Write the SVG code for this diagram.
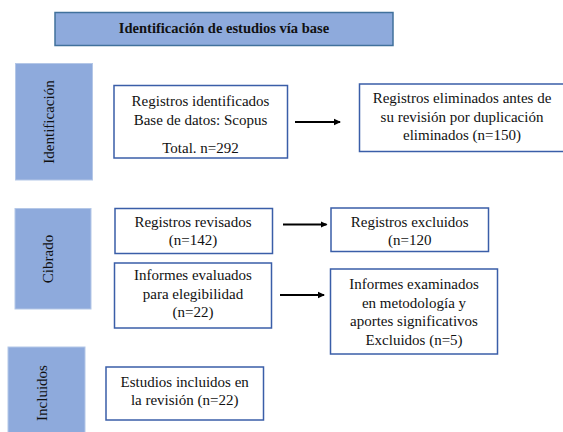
<svg xmlns="http://www.w3.org/2000/svg" width="563" height="432" viewBox="0 0 563 432">
<defs>
<style>
.side{fill:#8eaadc;stroke:#b4c7e7;stroke-width:1}
.hdr{fill:#8eaadc;stroke:#41719c;stroke-width:1.5}
.box{fill:#ffffff;stroke:#3a5ea8;stroke-width:1.5}
.t{font-family:"Liberation Serif","Times New Roman",serif;font-size:15px;fill:#111111;text-anchor:middle}
.b{font-weight:bold;font-size:14.5px}
.conn{stroke:#000000;stroke-width:2;fill:none;marker-end:url(#ah)}
</style>
<marker id="ah" markerWidth="8" markerHeight="8" refX="6" refY="4" orient="auto" markerUnits="userSpaceOnUse">
<path d="M0,0.8 L7,4 L0,7.2 Z" fill="#000000"/>
</marker>
</defs>
<rect width="563" height="432" fill="#ffffff"/>

<g id="header">
<rect class="hdr" x="55" y="12.5" width="338" height="33"/>
<text class="t b" x="224" y="32.5">Identificación de estudios vía base</text>
</g>

<g id="side-identificacion">
<rect class="side" x="15.5" y="63.5" width="77" height="116.5"/>
<text class="t" transform="translate(54,122) rotate(-90)">Identificación</text>
</g>

<g id="side-cibrado">
<rect class="side" x="15" y="208.5" width="76" height="100.5"/>
<text class="t" transform="translate(53,259) rotate(-90)">Cibrado</text>
</g>

<g id="side-incluidos">
<rect class="side" x="8" y="347" width="77" height="86"/>
<text class="t" transform="translate(46.5,393) rotate(-90)">Incluidos</text>
</g>

<g id="registros-identificados">
<rect class="box" x="114" y="85.5" width="173.5" height="72.5"/>
<text class="t" x="200.5" y="106">Registros identificados</text>
<text class="t" x="200.5" y="124.5">Base de datos: Scopus</text>
<text class="t" x="200.5" y="152.5">Total. n=292</text>
</g>

<g id="registros-eliminados">
<rect class="box" x="359.5" y="84" width="206" height="67.5"/>
<text class="t" x="462" y="103">Registros eliminados antes de</text>
<text class="t" x="462" y="121.5">su revisión por duplicación</text>
<text class="t" x="462" y="140">eliminados (n=150)</text>
</g>

<g id="registros-revisados">
<rect class="box" x="115" y="208.5" width="157.5" height="45"/>
<text class="t" x="193" y="227">Registros revisados</text>
<text class="t" x="193" y="245">(n=142)</text>
</g>

<g id="registros-excluidos">
<rect class="box" x="331" y="208" width="157.5" height="43.5"/>
<text class="t" x="409.7" y="226.5">Registros excluidos</text>
<text class="t" x="409.7" y="245">(n=120</text>
</g>

<g id="informes-evaluados">
<rect class="box" x="114.5" y="263" width="157" height="65"/>
<text class="t" x="193" y="280">Informes evaluados</text>
<text class="t" x="193" y="298.5">para elegibilidad</text>
<text class="t" x="193" y="317">(n=22)</text>
</g>

<g id="informes-examinados">
<rect class="box" x="330.5" y="269" width="167" height="85"/>
<text class="t" x="414" y="289">Informes examinados</text>
<text class="t" x="414" y="307.5">en metodología y</text>
<text class="t" x="414" y="326">aportes significativos</text>
<text class="t" x="414" y="345">Excluidos (n=5)</text>
</g>

<g id="estudios-incluidos">
<rect class="box" x="106" y="367" width="157.5" height="53"/>
<text class="t" x="184.7" y="387">Estudios incluidos en</text>
<text class="t" x="184.7" y="405">la revisión (n=22)</text>
</g>

<g id="connectors">
<line class="conn" x1="295" y1="122" x2="340" y2="122"/>
<line class="conn" x1="283" y1="224.5" x2="326.5" y2="224.5"/>
<line class="conn" x1="280" y1="295" x2="324" y2="295"/>
</g>
</svg>
